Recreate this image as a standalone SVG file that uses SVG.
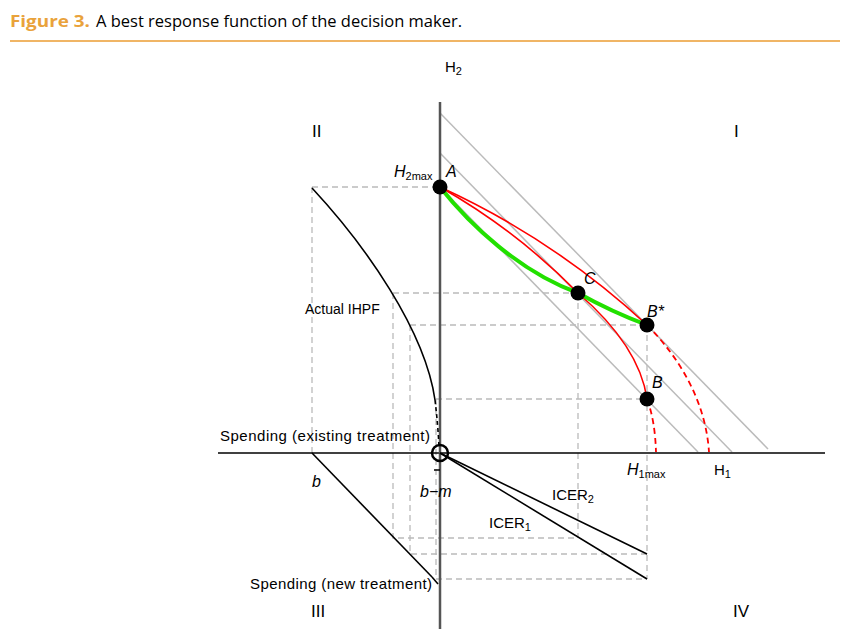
<svg xmlns="http://www.w3.org/2000/svg" width="842" height="637" viewBox="0 0 842 637">
<style>
text{font-family:"Liberation Sans",Arial,sans-serif;font-size:15px;fill:#000}
.it{font-style:italic;font-size:16px}
.sub{font-size:11px;font-style:normal}
.title{font-family:"Open Sans","Liberation Sans",sans-serif;font-size:16.5px}
.guide{stroke:#bbb;stroke-width:1.3;stroke-dasharray:6,4;fill:none}
.diag{stroke:#bbb;stroke-width:1.5;fill:none}
.red{stroke:#f00;stroke-width:1.6;fill:none}
.reddash{stroke:#f00;stroke-width:1.8;fill:none;stroke-dasharray:6,4}
.blk{stroke:#000;stroke-width:1.6;fill:none}
.pt{fill:#000}
.rn{font-size:17px}
</style>
<rect width="842" height="637" fill="#fff"/>
<g id="title">
<text x="10" y="27" class="title" style="fill:#E9A23B;font-weight:bold" textLength="80" lengthAdjust="spacingAndGlyphs">Figure 3.</text>
<text x="96" y="27" class="title" textLength="366">A best response function of the decision maker.</text>
<line x1="10" y1="41" x2="840" y2="41" stroke="#F0B565" stroke-width="2"/>
</g>
<g id="guides">
<path class="guide" d="M312,187H440M312,187V453"/>
<path class="guide" d="M393,293H578M393,293V538H578M578,293V538"/>
<path class="guide" d="M410,325H647M410,325V554H647"/>
<path class="guide" d="M436,399H647M436,399V579H647M647,325V579"/>
</g>
<g id="diagonals">
<line class="diag" x1="440" y1="113" x2="768" y2="449"/>
<line class="diag" x1="440" y1="153" x2="732" y2="452"/>
<line class="diag" x1="440" y1="187" x2="698" y2="452"/>
</g>
<g id="axes">
<line x1="218" y1="453" x2="825" y2="453" stroke="#000" stroke-width="1.5"/>
<line x1="440" y1="102" x2="440" y2="629" stroke="#555" stroke-width="2.5"/>
</g>
<g id="connectors">
<path class="red" d="M440,187Q554,239 647,325"/>
<path class="reddash" d="M647,325C667,345 705,390 709,452"/>
<path class="red" d="M440,187Q516,230 578,293C600,312 640,350 647,399"/>
<path class="reddash" d="M647,399Q655,420 656,452"/>
<path d="M440,187C470,225 520,272 578,293Q612,312 647,325" stroke="#22e000" stroke-width="4" fill="none"/>
<path class="blk" d="M312,188C365,245 425,330 435,400"/>
<path class="blk" d="M435,400Q438,425 439,447" stroke-dasharray="4,3"/>
<line class="blk" x1="312" y1="453" x2="432" y2="577"/>
<line class="blk" x1="432" y1="577" x2="438" y2="584" stroke-width="1"/>
<line class="blk" x1="440" y1="453" x2="647" y2="554"/>
<line class="blk" x1="440" y1="453" x2="647" y2="579"/>
<line x1="434" y1="470" x2="440" y2="470" stroke="#000" stroke-width="1.5"/>
</g>
<g id="node-O"><circle cx="440" cy="453" r="8" fill="none" stroke="#000" stroke-width="2.5"/></g>
<g id="node-A"><circle class="pt" cx="440" cy="187" r="7.5"/>
<text x="394" y="177" class="it">H<tspan class="sub" dy="3">2max</tspan></text>
<text x="446" y="177" class="it">A</text></g>
<g id="node-C"><circle class="pt" cx="578" cy="293" r="7.5"/><text x="584" y="284" class="it">C</text></g>
<g id="node-Bstar"><circle class="pt" cx="647" cy="325" r="7.5"/><text x="647" y="317" class="it">B*</text></g>
<g id="node-B"><circle class="pt" cx="647" cy="399" r="7.5"/><text x="652" y="388" class="it">B</text></g>
<g id="labels">
<text x="445" y="72">H<tspan class="sub" dy="3">2</tspan></text>
<text x="312" y="137" class="rn">II</text>
<text x="734" y="137" class="rn">I</text>
<text x="311" y="617" class="rn">III</text>
<text x="733" y="617" class="rn">IV</text>
<text x="305" y="314" style="font-size:14px">Actual IHPF</text>
<text x="220" y="441" textLength="210">Spending (existing treatment)</text>
<text x="312" y="487" class="it">b</text>
<text x="420" y="497" class="it">b−m</text>
<text x="627" y="475" class="it">H<tspan class="sub" dy="3">1max</tspan></text>
<text x="714" y="475">H<tspan class="sub" dy="3">1</tspan></text>
<text x="552" y="500">ICER<tspan class="sub" dy="3">2</tspan></text>
<text x="489" y="528">ICER<tspan class="sub" dy="3">1</tspan></text>
<text x="250" y="589" textLength="182">Spending (new treatment)</text>
</g>
</svg>
